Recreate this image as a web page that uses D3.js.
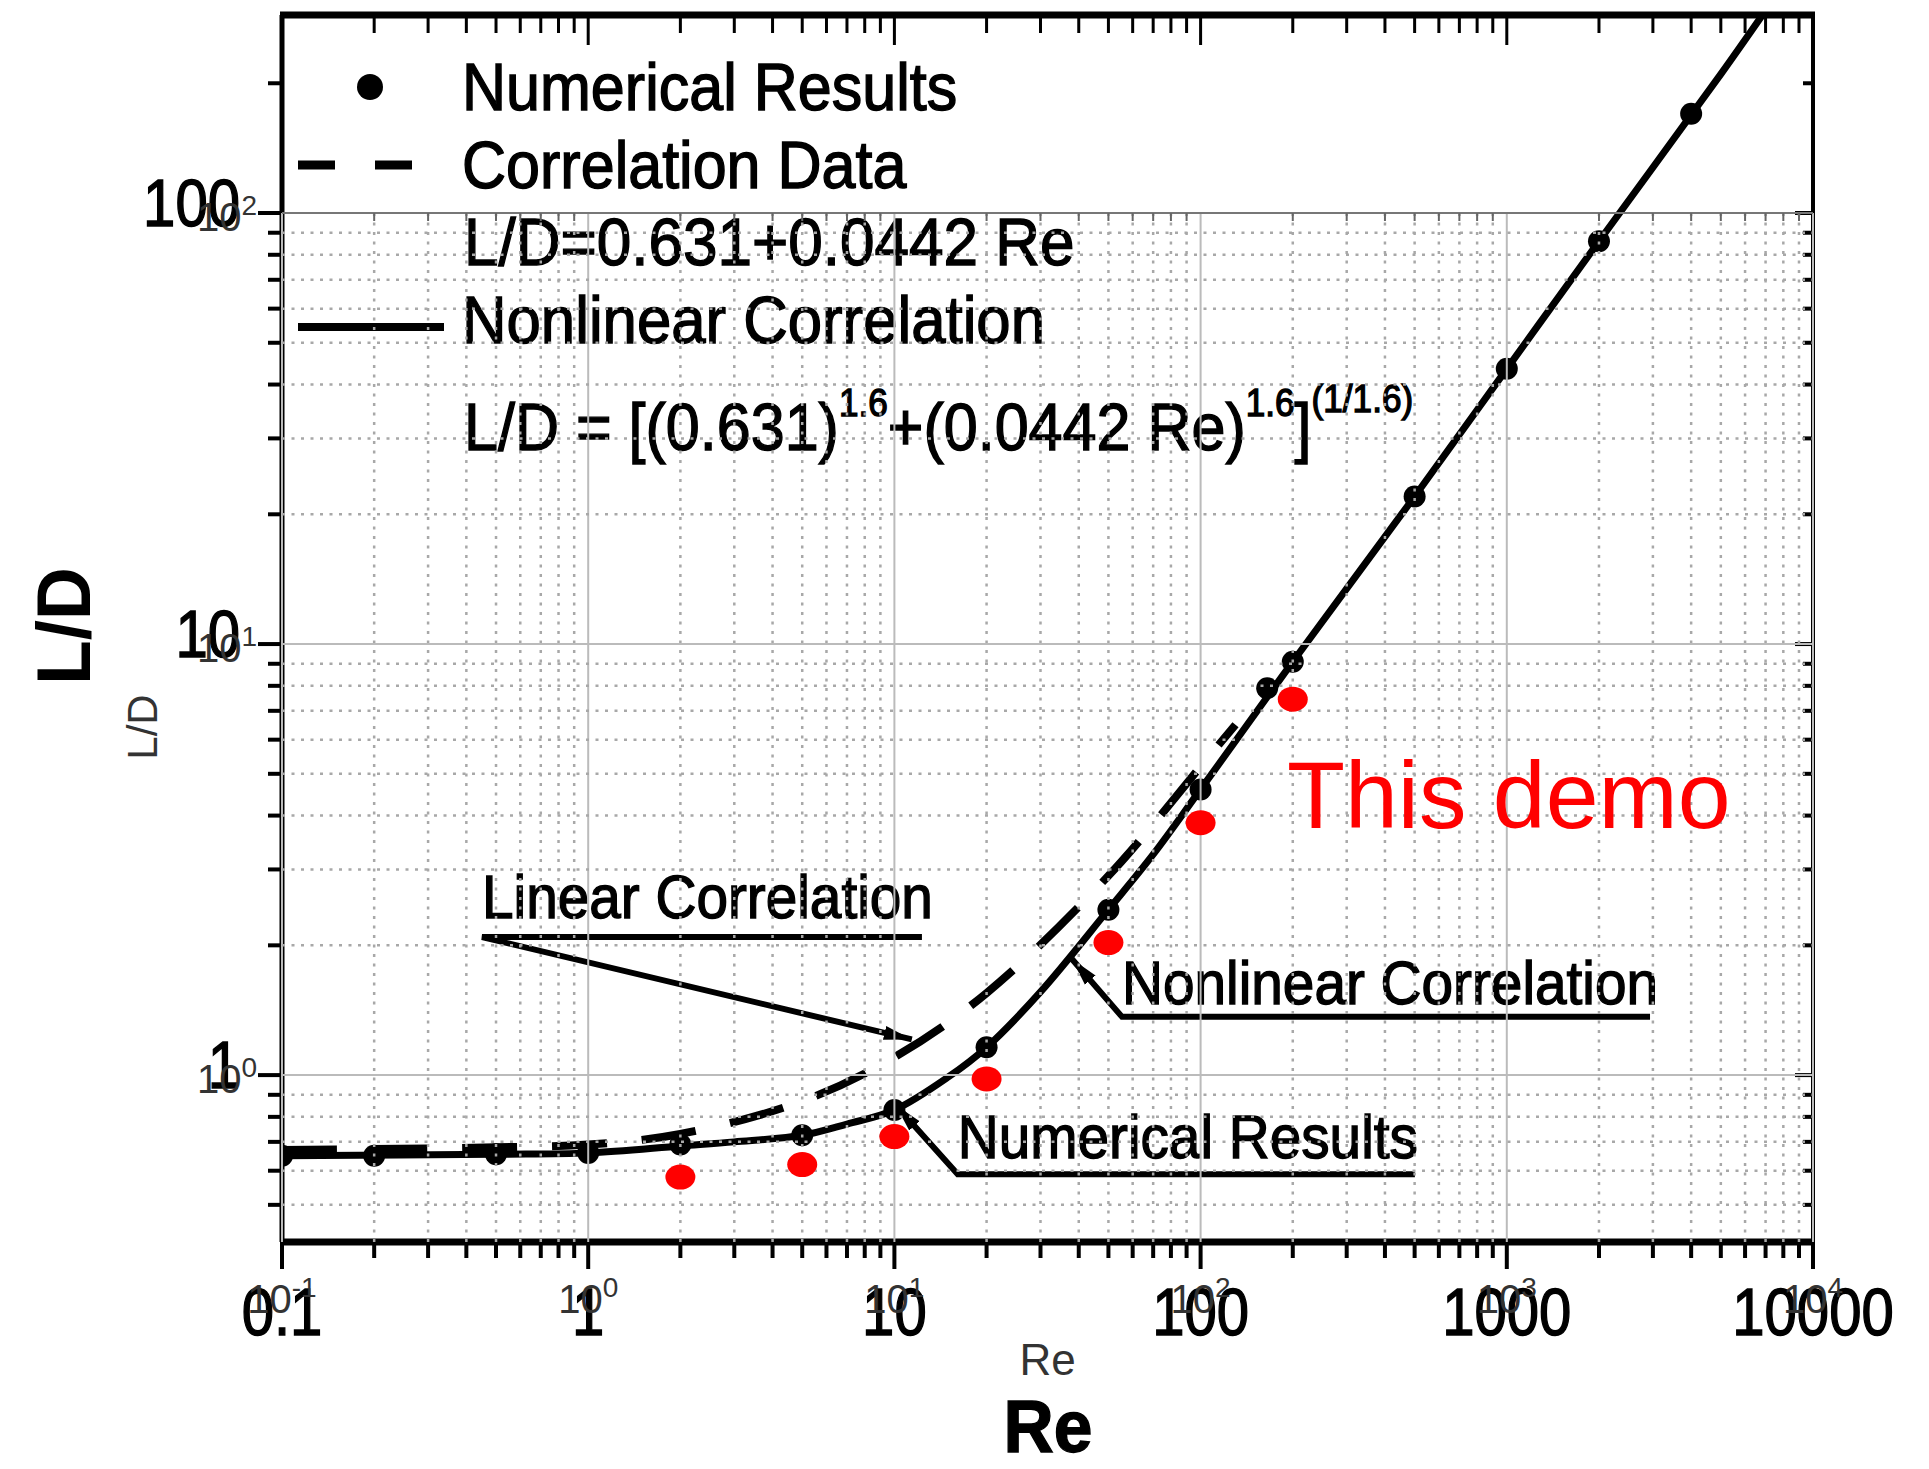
<!DOCTYPE html>
<html>
<head>
<meta charset="utf-8">
<script src="https://cdn.jsdelivr.net/npm/d3@7"></script>
<style>
  body { margin: 0; background: #fff; }
  svg { display: block; }
  text { font-family: "Liberation Sans", Arial, sans-serif; }
</style>
</head>
<body>
<svg id="chart" width="1929" height="1469"></svg>
<script>
// numerical results (black dots of the scanned figure)
var reNum = [0.1, 0.2, 0.5, 1, 2, 5, 10, 20, 50, 100, 165, 200, 500, 1000, 2000, 4000];
var ldNum = [0.65, 0.65, 0.655, 0.66, 0.69, 0.725, 0.83, 1.16, 2.42, 4.6, 7.9, 9.1, 22, 43.5, 86, 170];

// nonlinear correlation (solid curve)
var reNonlin = [0.1, 0.5, 1, 2, 3, 5, 7, 10, 15, 20, 30, 50, 70, 100, 200, 500, 1000, 2000, 5000, 7000];
var ldNonlin = [0.65, 0.655, 0.66, 0.685, 0.70, 0.725, 0.77, 0.83, 0.99, 1.16, 1.56, 2.42, 3.25, 4.6, 9.1, 22, 43.5, 86, 210, 295];

// linear correlation data (dashed curve)
var reLin = [0.1, 0.5, 1, 2, 5, 10, 20, 50, 100, 130];
var ldLin = [0.67, 0.68, 0.69, 0.73, 0.87, 1.1, 1.55, 2.9, 5.2, 6.5];

// this demo (red dots)
var reDemo = [2, 5, 10, 20, 50, 100, 200];
var ldDemo = [0.58, 0.62, 0.72, 0.98, 2.03, 3.85, 7.45];

// tick labels
var xTickVals = [0.1, 1, 10, 100, 1000, 10000];
var xTickText = ["0.1", "1", "10", "100", "1000", "10000"];
var xTickExp = ["-1", "0", "1", "2", "3", "4"];
var yTickVals = [1, 10, 100];
var yTickText = ["1", "10", "100"];
var yTickExp = ["0", "1", "2"];

// annotations (in data units)
var annLabels = ["Linear Correlation", "Nonlinear Correlation", "Numerical Results"];
var annStartRe = [0.45, 55.4, 16.1];
var annEndRe = [12.3, 2936, 501];
var annTextLD = [2.32, 1.46, 0.642];
var annLineLD = [2.09, 1.365, 0.589];
var annTipRe = [11.4, 38, 10.1];
var annTipLD = [1.21, 1.86, 0.852];

var svg = d3.select("#chart");

var x = d3.scaleLog().domain([0.1, 10000]).range([282, 1813]);
var y = d3.scaleLog().domain([0.41, 288]).range([1242, 15]);

var x0 = x.range()[0], x1 = x.range()[1];
var yb = y.range()[0], yt = y.range()[1];

function isDecade(v) {
  var l = Math.log10(v);
  return Math.abs(l - Math.round(l)) < 1e-6;
}

// text squeezed a bit sideways, like the scanned lettering
function scanText(g, px, py, str, size, anchor, sx) {
  return g.append("text")
    .attr("transform", "translate(" + px + "," + py + ") scale(" + sx + ",1)")
    .attr("text-anchor", anchor)
    .attr("font-size", size)
    .attr("fill", "#000")
    .attr("stroke", "#000")
    .attr("stroke-width", 1.4)
    .text(str);
}

svg.append("defs").append("marker")
    .attr("id", "arrow")
    .attr("markerUnits", "userSpaceOnUse")
    .attr("markerWidth", 30)
    .attr("markerHeight", 20)
    .attr("refX", 28)
    .attr("refY", 10)
    .attr("orient", "auto")
  .append("path")
    .attr("d", "M0,3 L28,10 L0,17 Z")
    .attr("fill", "#000");

svg.select("defs").append("clipPath")
    .attr("id", "plotclip")
  .append("rect")
    .attr("x", x0).attr("y", yt)
    .attr("width", x1 - x0).attr("height", yb - yt);

// ---- scanned figure ----
var scan = svg.append("g");

// frame
scan.append("line").attr("x1", x0 - 2).attr("x2", x1 + 2).attr("y1", yt).attr("y2", yt)
    .attr("stroke", "#000").attr("stroke-width", 7);
scan.append("line").attr("x1", x0 - 2).attr("x2", x1 + 2).attr("y1", yb).attr("y2", yb)
    .attr("stroke", "#000").attr("stroke-width", 7);
scan.append("line").attr("x1", x0).attr("x2", x0).attr("y1", yt).attr("y2", yb)
    .attr("stroke", "#000").attr("stroke-width", 5);
scan.append("line").attr("x1", x1).attr("x2", x1).attr("y1", yt).attr("y2", yb)
    .attr("stroke", "#000").attr("stroke-width", 4);

// ticks
scan.selectAll(".tb").data(x.ticks()).enter().append("line")
    .attr("x1", d => x(d)).attr("x2", d => x(d))
    .attr("y1", yb).attr("y2", d => yb + (isDecade(d) ? 27 : 16))
    .attr("stroke", "#000").attr("stroke-width", 4);
scan.selectAll(".tt").data(x.ticks()).enter().append("line")
    .attr("x1", d => x(d)).attr("x2", d => x(d))
    .attr("y1", yt).attr("y2", d => yt + (isDecade(d) ? 30 : 18))
    .attr("stroke", "#000").attr("stroke-width", 3);
scan.selectAll(".tl").data(y.ticks()).enter().append("line")
    .attr("x1", x0).attr("x2", d => x0 - (isDecade(d) ? 24 : 14))
    .attr("y1", d => y(d)).attr("y2", d => y(d))
    .attr("stroke", "#000").attr("stroke-width", 4);
scan.selectAll(".tr").data(y.ticks()).enter().append("line")
    .attr("x1", x1).attr("x2", d => x1 - (isDecade(d) ? 18 : 10))
    .attr("y1", d => y(d)).attr("y2", d => y(d))
    .attr("stroke", "#000").attr("stroke-width", 4);

// curves
var line = d3.line()
    .x(d => x(d[0]))
    .y(d => y(d[1]))
    .curve(d3.curveCatmullRom.alpha(0.5));

var curves = scan.append("g").attr("clip-path", "url(#plotclip)");

curves.append("path")
    .datum(reNonlin.map((r, i) => [r, ldNonlin[i]]))
    .attr("d", line)
    .attr("fill", "none")
    .attr("stroke", "#000")
    .attr("stroke-width", 7);

curves.append("path")
    .datum(reLin.map((r, i) => [r, ldLin[i]]))
    .attr("d", line)
    .attr("fill", "none")
    .attr("stroke", "#000")
    .attr("stroke-width", 8)
    .attr("stroke-dasharray", "55,35");

curves.selectAll(".num").data(reNum).enter().append("circle")
    .attr("cx", d => x(d))
    .attr("cy", (d, i) => y(ldNum[i]))
    .attr("r", 11)
    .attr("fill", "#000");

// legend
scan.append("circle").attr("cx", 370).attr("cy", 87).attr("r", 13).attr("fill", "#000");
scan.append("line").attr("x1", 298).attr("x2", 414).attr("y1", 165).attr("y2", 165)
    .attr("stroke", "#000").attr("stroke-width", 9).attr("stroke-dasharray", "37,40");
scan.append("line").attr("x1", 298).attr("x2", 444).attr("y1", 327).attr("y2", 327)
    .attr("stroke", "#000").attr("stroke-width", 8);

scanText(scan, 462, 110, "Numerical Results", 66, "start", 0.925);
scanText(scan, 462, 188, "Correlation Data", 66, "start", 0.925);
scanText(scan, 464, 265, "L/D=0.631+0.0442 Re", 66, "start", 0.94);
scanText(scan, 462, 343, "Nonlinear Correlation", 66, "start", 0.935);

var formula = scan.append("text")
    .attr("transform", "translate(464,450) scale(0.925,1)")
    .attr("font-size", 66)
    .attr("fill", "#000")
    .attr("stroke", "#000")
    .attr("stroke-width", 1.4);
formula.append("tspan").text("L/D = [(0.631)");
formula.append("tspan").attr("font-size", 38).attr("dy", -34).text("1.6");
formula.append("tspan").attr("dy", 34).text("+(0.0442 Re)");
formula.append("tspan").attr("font-size", 38).attr("dy", -34).text("1.6");
formula.append("tspan").attr("dy", 34).text("]");
formula.append("tspan").attr("font-size", 38).attr("dy", -38).text("(1/1.6)");

// annotations with leaders
annLabels.forEach(function(lab, i) {
  scanText(scan, x(annStartRe[i]), y(annTextLD[i]), lab, 62, "start", 0.915);
  scan.append("path")
      .attr("d", "M" + x(annEndRe[i]) + "," + y(annLineLD[i]) +
                 " L" + x(annStartRe[i]) + "," + y(annLineLD[i]) +
                 " L" + x(annTipRe[i]) + "," + y(annTipLD[i]))
      .attr("fill", "none")
      .attr("stroke", "#000")
      .attr("stroke-width", 6)
      .attr("marker-end", "url(#arrow)");
});

// scanned tick labels
xTickVals.forEach(function(v, i) {
  scanText(scan, x(v), 1335, xTickText[i], 66, "middle", 0.88);
});
yTickVals.forEach(function(v, i) {
  scanText(scan, 240, y(v) + 13, yTickText[i], 66, "end", 0.88);
});

// scanned axis titles
scanText(scan, 1048, 1452, "Re", 74, "middle", 0.94).attr("font-weight", "bold");
scan.append("text")
    .attr("transform", "translate(90,626) rotate(-90) scale(0.96,1)")
    .attr("text-anchor", "middle")
    .attr("font-size", 76)
    .attr("font-weight", "bold")
    .attr("fill", "#000")
    .text("L/D");

// ---- demo overlay ----
var grid = svg.append("g");
var yGridTicks = y.ticks().filter(d => d <= 100);

grid.selectAll(".gx").data(x.ticks()).enter().append("line")
    .attr("x1", d => x(d)).attr("x2", d => x(d))
    .attr("y1", y(100)).attr("y2", yb)
    .attr("stroke", d => isDecade(d) ? "#bbb" : "#a8a8a8")
    .attr("stroke-width", d => isDecade(d) ? 2 : 2.5)
    .attr("stroke-dasharray", d => isDecade(d) ? null : "3,6.5");

grid.selectAll(".gy").data(yGridTicks).enter().append("line")
    .attr("x1", x0).attr("x2", x1)
    .attr("y1", d => y(d)).attr("y2", d => y(d))
    .attr("stroke", d => d === 100 ? "#777" : (isDecade(d) ? "#bbb" : "#a8a8a8"))
    .attr("stroke-width", d => isDecade(d) ? 2 : 2.5)
    .attr("stroke-dasharray", d => isDecade(d) ? null : "3,6.5");

grid.selectAll(".gt").data(x.ticks()).enter().append("line")
    .attr("x1", d => x(d)).attr("x2", d => x(d))
    .attr("y1", y(100)).attr("y2", d => y(100) + (isDecade(d) ? 0 : 8))
    .attr("stroke", "#666")
    .attr("stroke-width", 2);

// overlay tick labels
xTickVals.forEach(function(v, i) {
  var t = svg.append("text")
      .attr("x", x(v)).attr("y", 1313)
      .attr("text-anchor", "middle")
      .attr("font-size", 40)
      .attr("fill", "#333");
  t.append("tspan").text("10");
  t.append("tspan").attr("font-size", 28).attr("dy", -16).text(xTickExp[i]);
});
yTickVals.forEach(function(v, i) {
  var t = svg.append("text")
      .attr("x", 257).attr("y", y(v) + 18)
      .attr("text-anchor", "end")
      .attr("font-size", 40)
      .attr("fill", "#333");
  t.append("tspan").text("10");
  t.append("tspan").attr("font-size", 28).attr("dy", -16).text(yTickExp[i]);
});

svg.append("text")
    .attr("x", (x0 + x1) / 2).attr("y", 1375)
    .attr("text-anchor", "middle")
    .attr("font-size", 44)
    .attr("fill", "#333")
    .text("Re");
svg.append("text")
    .attr("transform", "translate(157,727) rotate(-90)")
    .attr("text-anchor", "middle")
    .attr("font-size", 42)
    .attr("fill", "#333")
    .text("L/D");

// this demo
svg.selectAll(".demo").data(reDemo).enter().append("ellipse")
    .attr("cx", d => x(d))
    .attr("cy", (d, i) => y(ldDemo[i]))
    .attr("rx", 15)
    .attr("ry", 12.5)
    .attr("fill", "#ff0000");

svg.append("text")
    .attr("x", 1287).attr("y", 828)
    .attr("font-size", 95)
    .attr("fill", "#ff0000")
    .text("This demo");
</script>
</body>
</html>
